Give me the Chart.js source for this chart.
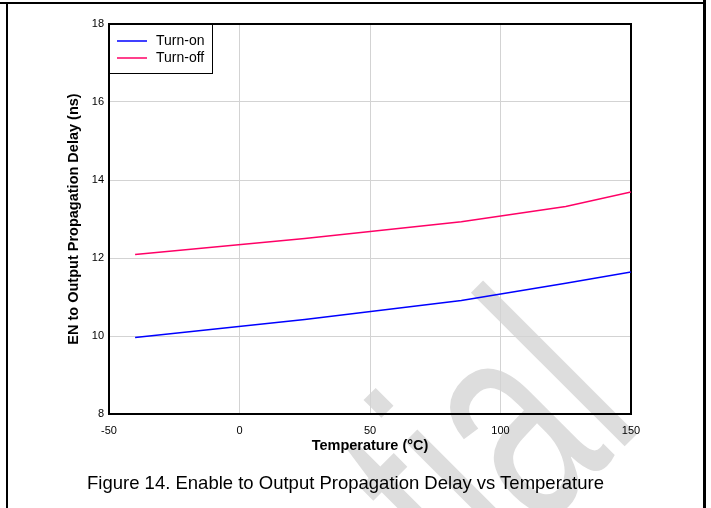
<!DOCTYPE html>
<html><head><meta charset="utf-8">
<script src="https://cdn.jsdelivr.net/npm/chart.js@4.4.0/dist/chart.umd.min.js"></script>
<style>
html,body{margin:0;padding:0;background:#fff;}
#wrap{position:relative;width:711px;height:508px;overflow:hidden;}
canvas{position:absolute;left:0;top:0;}
.fr{position:absolute;background:#000;}
#cap{position:absolute;left:-10px;width:711px;top:472px;text-align:center;font:18.5px "Liberation Sans",Arial,sans-serif;color:#000;line-height:22px;}
</style></head><body>
<div id="wrap">
<canvas id="c" width="711" height="508"></canvas>
<div class="fr" style="left:0;top:2px;width:706px;height:2px"></div>
<div class="fr" style="left:6px;top:2px;width:2px;height:506px"></div>
<div class="fr" style="left:703px;top:0;width:3px;height:508px"></div>
<div id="cap">Figure 14. Enable to Output Propagation Delay vs Temperature</div>
</div>
<script>
const temps = [-40, 25, 85, 125, 150];
const turnOn = [9.96, 10.42, 10.91, 11.35, 11.64];
const turnOff = [12.09, 12.50, 12.93, 13.32, 13.69];
const seriesNames = ['Turn-on', 'Turn-off'];
const xTicks = [-50, 0, 50, 100, 150];
const yTicks = [8, 10, 12, 14, 16, 18];
const xTitle = 'Temperature (°C)';
const yTitle = 'EN to Output Propagation Delay (ns)';
const watermark = 'Confidential';

const FONT = '"Liberation Sans", Arial, sans-serif';
Chart.defaults.font.family = FONT;
Chart.defaults.color = '#000';

const toXY = (xs, ys) => xs.map((x, i) => ({x: x, y: ys[i]}));

const watermarkPlugin = {
  id: 'wm',
  beforeDraw(chart) {
    const ctx = chart.ctx;
    ctx.save();
    ctx.fillStyle = '#fff';
    ctx.fillRect(0, 0, chart.width, chart.height);
    ctx.translate(646, 425);
    ctx.rotate(-Math.PI / 4);
    ctx.scale(0.65, 1);
    ctx.font = '300px ' + FONT;
    ctx.fillStyle = '#dddddd';
    ctx.textAlign = 'right';
    ctx.textBaseline = 'alphabetic';
    ctx.fillText(watermark, 0, 0);
    ctx.restore();
  }
};

const framePlugin = {
  id: 'frame',
  beforeDatasetsDraw(chart) {
    const a = chart.chartArea, ctx = chart.ctx;
    ctx.save();
    ctx.strokeStyle = '#000';
    ctx.lineWidth = 2;
    ctx.strokeRect(a.left, a.top, a.right - a.left, a.bottom - a.top);
    ctx.restore();
  }
};

const legendPlugin = {
  id: 'customLegend',
  afterDatasetsDraw(chart) {
    const a = chart.chartArea, ctx = chart.ctx;
    ctx.save();
    ctx.fillStyle = '#fff';
    ctx.fillRect(a.left, a.top, 103, 49);
    ctx.strokeStyle = '#000';
    ctx.lineWidth = 1;
    ctx.strokeRect(a.left + 0.5, a.top + 0.5, 103, 49);
    ctx.font = '14px ' + FONT;
    ctx.textBaseline = 'middle';
    ctx.textAlign = 'left';
    chart.data.datasets.forEach((ds, i) => {
      const y = a.top + 17 + i * 17;
      ctx.strokeStyle = ds.borderColor;
      ctx.lineWidth = 1.5;
      ctx.beginPath();
      ctx.moveTo(a.left + 8, y);
      ctx.lineTo(a.left + 38, y);
      ctx.stroke();
      ctx.fillStyle = '#000';
      ctx.fillText(ds.label, a.left + 47, y);
    });
    ctx.restore();
  }
};

new Chart(document.getElementById('c'), {
  type: 'line',
  data: {
    datasets: [
      {label: seriesNames[0], data: toXY(temps, turnOn), borderColor: '#0000ff', borderWidth: 1.5, pointRadius: 0, tension: 0, fill: false},
      {label: seriesNames[1], data: toXY(temps, turnOff), borderColor: '#ff0066', borderWidth: 1.5, pointRadius: 0, tension: 0, fill: false}
    ]
  },
  options: {
    responsive: false,
    animation: false,
    devicePixelRatio: 1,
    layout: {padding: {left: 61, top: 24, right: 80, bottom: 49}},
    plugins: {legend: {display: false}, tooltip: {enabled: false}},
    scales: {
      x: {
        type: 'linear', min: -50, max: 150,
        afterBuildTicks: s => { s.ticks = xTicks.map(v => ({value: v})); },
        afterFit: s => { s.height = 45; },
        grid: {color: '#d3d3d3', lineWidth: 1, drawTicks: false},
        border: {display: false},
        ticks: {padding: 10, font: {size: 11}, color: '#000'},
        title: {display: true, text: xTitle, font: {size: 14.5, weight: 'bold'}, color: '#000', padding: {top: 4, bottom: 4}}
      },
      y: {
        type: 'linear', min: 8, max: 18,
        afterBuildTicks: s => { s.ticks = yTicks.map(v => ({value: v})); },
        afterFit: s => { s.width = 48; },
        grid: {color: '#d3d3d3', lineWidth: 1, drawTicks: false},
        border: {display: false},
        ticks: {padding: 5, font: {size: 11}, color: '#000'},
        title: {display: true, text: yTitle, font: {size: 14.5, weight: 'bold'}, color: '#000', padding: {top: 4, bottom: 4}}
      }
    }
  },
  plugins: [watermarkPlugin, framePlugin, legendPlugin]
});
</script>
</body></html>
